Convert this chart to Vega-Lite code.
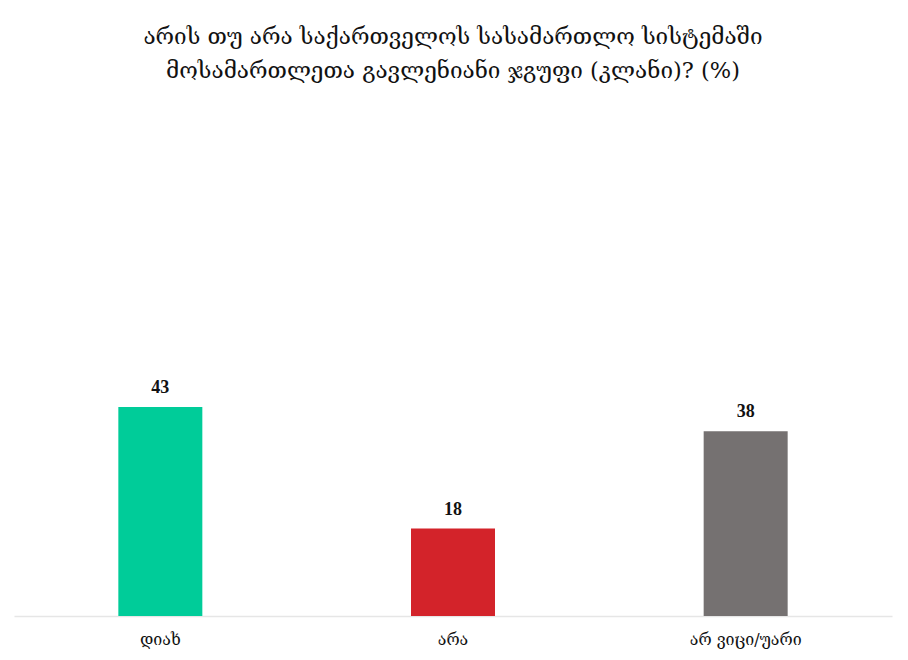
{
  "$schema": "https://vega.github.io/schema/vega-lite/v6.json",
  "autosize": "none",
  "width": 878,
  "height": 486,
  "padding": {"left": 14, "top": 130, "right": 16, "bottom": 44},
  "background": "white",
  "title": {
    "text": ["არის თუ არა საქართველოს სასამართლო სისტემაში", "მოსამართლეთა გავლენიანი ჯგუფი (კლანი)? (%)"],
    "anchor": "middle",
    "frame": "group",
    "font": "DejaVu Serif",
    "fontSize": 22.5,
    "fontWeight": "normal",
    "color": "#111111",
    "lineHeight": 34,
    "offset": 48
  },
  "data": {
    "values": [
      {"category": "დიახ", "value": 43},
      {"category": "არა", "value": 18},
      {"category": "არ ვიცი/უარი", "value": 38}
    ]
  },
  "encoding": {
    "x": {
      "field": "category",
      "type": "nominal",
      "sort": null,
      "scale": {"paddingInner": 0, "paddingOuter": 0},
      "axis": {
        "title": null,
        "labelAngle": 0,
        "ticks": false,
        "domainColor": "#e6e6e6",
        "domainWidth": 1.5,
        "labelFont": "DejaVu Serif",
        "labelFontSize": 16,
        "labelColor": "#111111",
        "labelPadding": 15
      }
    },
    "y": {
      "field": "value",
      "type": "quantitative",
      "scale": {"domain": [0, 100]},
      "axis": null
    }
  },
  "layer": [
    {
      "mark": {"type": "bar", "size": 84},
      "encoding": {
        "color": {
          "field": "category",
          "type": "nominal",
          "sort": null,
          "scale": {
            "domain": ["დიახ", "არა", "არ ვიცი/უარი"],
            "range": ["#00CC99", "#D3232A", "#757171"]
          },
          "legend": null
        }
      }
    },
    {
      "mark": {"type": "text", "dy": -10, "baseline": "bottom", "font": "Liberation Serif", "fontSize": 18, "fontWeight": "bold", "color": "#111111"},
      "encoding": {
        "text": {"field": "value", "type": "quantitative"}
      }
    }
  ],
  "config": {
    "view": {"stroke": null}
  }
}
